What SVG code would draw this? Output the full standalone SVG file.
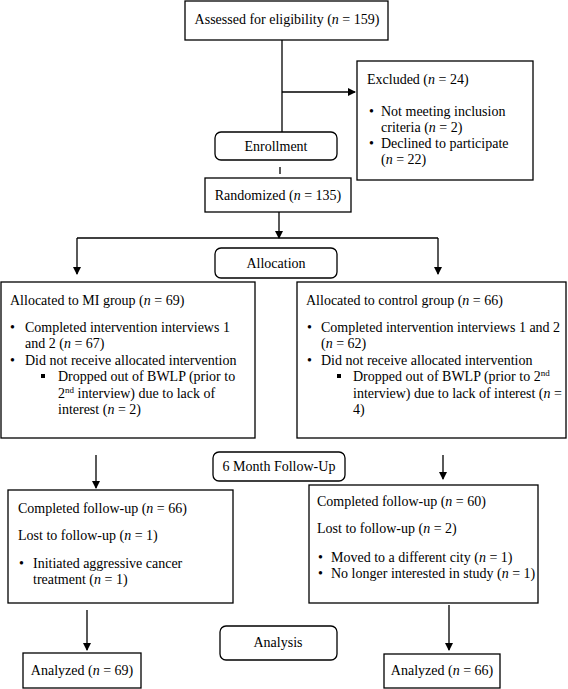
<svg xmlns="http://www.w3.org/2000/svg" width="568" height="689" viewBox="0 0 568 689">
<style>
.b{fill:#fff;stroke:#000;stroke-width:1.3}
.t{font-family:"Liberation Serif","Times New Roman",serif;font-size:14px;fill:#000}
.c{text-anchor:middle}
.l{stroke:#000;stroke-width:1.3;fill:none}
.i{font-style:italic}
</style>
<defs>
<marker id="ah" markerWidth="8" markerHeight="8" refX="7" refY="4" orient="auto" markerUnits="userSpaceOnUse">
<path d="M0,0 L8,4 L0,8 Z" fill="#000"/>
</marker>
</defs>
<rect width="568" height="689" fill="#fff"/>
<g id="connectors">
<line class="l" x1="282" y1="40" x2="282" y2="132"/>
<line class="l" x1="282" y1="92" x2="355" y2="92" marker-end="url(#ah)"/>
<line class="l" x1="280" y1="167" x2="280" y2="174"/>
<line class="l" x1="279" y1="212" x2="279" y2="238" marker-end="url(#ah)"/>
<polyline class="l" points="77,238 438,238"/>
<line class="l" x1="77" y1="238" x2="77" y2="274" marker-end="url(#ah)"/>
<line class="l" x1="438" y1="238" x2="438" y2="274" marker-end="url(#ah)"/>
<line class="l" x1="96" y1="455" x2="96" y2="488" marker-end="url(#ah)"/>
<line class="l" x1="443" y1="455" x2="443" y2="479" marker-end="url(#ah)"/>
<line class="l" x1="87" y1="610" x2="87" y2="650" marker-end="url(#ah)"/>
<line class="l" x1="449" y1="605" x2="449" y2="650" marker-end="url(#ah)"/>
</g>
<g id="assessed">
<rect class="b" x="185" y="1" width="203" height="39"/>
<text class="t c" x="287" y="24">Assessed for eligibility (<tspan class="i">n</tspan> = 159)</text>
</g>
<g id="excluded">
<rect class="b" x="357" y="61" width="176" height="119"/>
<text class="t" x="367" y="84">Excluded (<tspan class="i">n</tspan> = 24)</text>
<text class="t" x="369" y="116">•</text>
<text class="t" x="381" y="116">Not meeting inclusion</text>
<text class="t" x="381" y="132">criteria (<tspan class="i">n</tspan> = 2)</text>
<text class="t" x="369" y="148">•</text>
<text class="t" x="381" y="148">Declined to participate</text>
<text class="t" x="381" y="164">(<tspan class="i">n</tspan> = 22)</text>
</g>
<g id="enrollment">
<rect class="b" x="215" y="132" width="122" height="28" rx="6"/>
<text class="t c" x="276" y="151">Enrollment</text>
</g>
<g id="randomized">
<rect class="b" x="205" y="178" width="146" height="34"/>
<text class="t c" x="278" y="200">Randomized (<tspan class="i">n</tspan> = 135)</text>
</g>
<g id="allocation">
<rect class="b" x="215" y="248" width="122" height="30" rx="6"/>
<text class="t c" x="276" y="268">Allocation</text>
</g>
<g id="mi-group">
<rect class="b" x="1" y="282" width="254" height="156"/>
<text class="t" x="10" y="305">Allocated to MI group (<tspan class="i">n</tspan> = 69)</text>
<text class="t" x="10" y="332">•</text>
<text class="t" x="25" y="332">Completed intervention interviews 1</text>
<text class="t" x="25" y="348">and 2 (<tspan class="i">n</tspan> = 67)</text>
<text class="t" x="10" y="365">•</text>
<text class="t" x="25" y="365">Did not receive allocated intervention</text>
<rect x="41" y="374" width="4" height="4" fill="#000"/>
<text class="t" x="58" y="381">Dropped out of BWLP (prior to</text>
<text class="t" x="58" y="398">2<tspan dy="-5" font-size="9">nd</tspan><tspan dy="5"> interview) due to lack of</tspan></text>
<text class="t" x="58" y="414">interest (<tspan class="i">n</tspan> = 2)</text>
</g>
<g id="control-group">
<rect class="b" x="297" y="282" width="269" height="156"/>
<text class="t" x="306" y="305">Allocated to control group (<tspan class="i">n</tspan> = 66)</text>
<text class="t" x="307" y="332">•</text>
<text class="t" x="321" y="332">Completed intervention interviews 1 and 2</text>
<text class="t" x="321" y="348">(<tspan class="i">n</tspan> = 62)</text>
<text class="t" x="307" y="365">•</text>
<text class="t" x="321" y="365">Did not receive allocated intervention</text>
<rect x="337" y="374" width="4" height="4" fill="#000"/>
<text class="t" x="353" y="381">Dropped out of BWLP (prior to 2<tspan dy="-5" font-size="9">nd</tspan></text>
<text class="t" x="353" y="398">interview) due to lack of interest (<tspan class="i">n</tspan> =</text>
<text class="t" x="353" y="414">4)</text>
</g>
<g id="followup-label">
<rect class="b" x="213" y="452" width="132" height="29" rx="6"/>
<text class="t c" x="279" y="471">6 Month Follow-Up</text>
</g>
<g id="followup-mi">
<rect class="b" x="8" y="490" width="225" height="113"/>
<text class="t" x="18" y="513">Completed follow-up (<tspan class="i">n</tspan> = 66)</text>
<text class="t" x="18" y="540">Lost to follow-up (<tspan class="i">n</tspan> = 1)</text>
<text class="t" x="19" y="568">•</text>
<text class="t" x="33" y="568">Initiated aggressive cancer</text>
<text class="t" x="33" y="584">treatment  (<tspan class="i">n</tspan> = 1)</text>
</g>
<g id="followup-control">
<rect class="b" x="309" y="485" width="229" height="118"/>
<text class="t" x="317" y="506">Completed follow-up (<tspan class="i">n</tspan> = 60)</text>
<text class="t" x="317" y="533">Lost to follow-up (<tspan class="i">n</tspan> = 2)</text>
<text class="t" x="318" y="562">•</text>
<text class="t" x="331" y="562">Moved to a different city (<tspan class="i">n</tspan> = 1)</text>
<text class="t" x="318" y="578">•</text>
<text class="t" x="331" y="578">No longer interested in study (<tspan class="i">n</tspan> = 1)</text>
</g>
<g id="analysis-label">
<rect class="b" x="220" y="626" width="117" height="34" rx="6"/>
<text class="t c" x="278" y="647">Analysis</text>
</g>
<g id="analyzed-mi">
<rect class="b" x="23" y="653" width="118" height="35"/>
<text class="t c" x="82" y="675">Analyzed (<tspan class="i">n</tspan> = 69)</text>
</g>
<g id="analyzed-control">
<rect class="b" x="384" y="654" width="116" height="34"/>
<text class="t c" x="442" y="675">Analyzed (<tspan class="i">n</tspan> = 66)</text>
</g>
</svg>
